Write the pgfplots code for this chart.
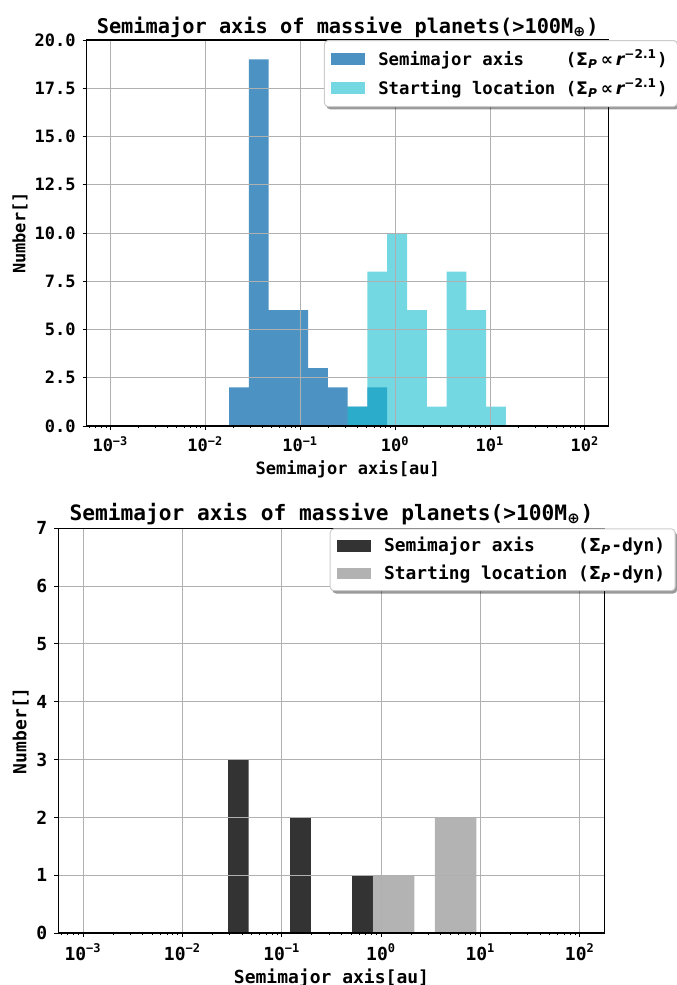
\documentclass[border=0pt]{standalone}
\usepackage{fontspec}
\setmainfont{DejaVu Sans Mono}
\newfontfamily\dvs{DejaVu Sans}
\usepackage{pgfplots}
\pgfplotsset{compat=1.18}
\usetikzlibrary{shadows}
\definecolor{tabblue}{RGB}{31,119,180}
\definecolor{tabcyan}{RGB}{23,190,207}
\definecolor{gridc}{RGB}{176,176,176}
\definecolor{legframe}{RGB}{204,204,204}

\makeatletter
\tikzset{no preactions/.code={\let\tikz@preactions\pgfutil@empty}}
\makeatother

\newcommand{\fa}{\fontsize{8.5}{10}\selectfont\bfseries}
\newcommand{\fla}{\fontsize{8.65}{10}\selectfont\bfseries}
\newcommand{\fb}{\fontsize{9}{10.8}\selectfont\bfseries}
\newcommand{\flb}{\fontsize{8.95}{10.8}\selectfont\bfseries}
\newcommand{\ft}{\fontsize{10.15}{12}\selectfont\bfseries}
\newcommand{\ftb}{\fontsize{10.6}{12.5}\selectfont\bfseries}
\newcommand{\sig}{{\dvs\bfseries Σ\textsubscript{\itshape P}}}
\newcommand{\pw}{(\sig{\dvs\bfseries\,∝\,}{\dvs\bfseries\itshape r}\textsuperscript{\dvs\bfseries −2.1})}
\newcommand{\dyn}{(\sig-dyn)}

\pgfplotsset{
  panel/.style={
    scale only axis,
    xmin=0.00056234, xmax=177.828,
    xtick={0.001,0.01,0.1,1,10,100},
    xticklabels={10\textsuperscript{−3},10\textsuperscript{−2},10\textsuperscript{−1},10\textsuperscript{0},10\textsuperscript{1},10\textsuperscript{2}},
    minor xtick={0.0006,0.0007,0.0008,0.0009,
      0.002,0.003,0.004,0.005,0.006,0.007,0.008,0.009,
      0.02,0.03,0.04,0.05,0.06,0.07,0.08,0.09,
      0.2,0.3,0.4,0.5,0.6,0.7,0.8,0.9,
      2,3,4,5,6,7,8,9,
      20,30,40,50,60,70,80,90},
    tick pos=left, tick align=outside,
    major tick length=2pt, minor tick length=1.1pt,
    tick style={black, line width=0.5pt},
    grid=major, major grid style={gridc, line width=0.5pt},
    axis on top,
    axis line style={line width=0.6pt},
    /pgf/number format/assume math mode=true,
    legend cell align=left,
    legend image code/.code={\fill[##1, sharp corners, no preactions] (0pt,-2.85pt) rectangle (17pt,2.85pt); \path (22pt,0pt);},
    legend style={anchor=north east, fill=white, draw=legframe, line width=0.5pt,
      rounded corners=2pt, inner xsep=3.5pt, inner ysep=2.8pt, row sep=1.8pt,
      nodes={inner sep=1.5pt},
      drop shadow={shadow xshift=1pt, shadow yshift=-1.4pt, fill=black, opacity=0.4}},
  }
}

\begin{document}
\begin{tikzpicture}
\useasboundingbox (0pt,0pt) rectangle (338pt,-492.5pt);

% ---------------- top panel ----------------
\begin{semilogxaxis}[panel,
  at={(43.35pt,-20pt)}, anchor=north west,
  width=261pt, height=193pt,
  ymin=0, ymax=20,
  ytick={0,2.5,5,7.5,10,12.5,15,17.5,20},
  yticklabel style={/pgf/number format/.cd, fixed, fixed zerofill, precision=1},
  ticklabel style={font=\fa},
  title={Semimajor axis of massive planets(>100M\textsubscript{\dvs⊕})},
  title style={font=\ft, at={(axis description cs:0.5,1.01736)}, anchor=base, yshift=-6pt},
  xlabel={Semimajor axis[au]},
  xlabel style={font=\fa, at={(axis description cs:0.5,-0.1244)}, anchor=base},
  ylabel={Number[]},
  ylabel style={font=\fa, at={(axis description cs:-0.1277,0.5)}, anchor=center},
  legend style={at={(axis description cs:1.1328,1)}, font=\fla},
]
\addplot[fill=tabblue, fill opacity=0.8, draw=none, const plot mark left]
  coordinates {(0.017783,2)(0.028731,19)(0.046416,6)(0.074989,6)(0.12115,3)(0.19573,2)(0.31623,1)(0.51090,2)(0.82540,2)} \closedcycle;
\addlegendentry{Semimajor axis\ \ \ \ \pw}
\addplot[fill=tabcyan, fill opacity=0.6, draw=none, const plot mark left]
  coordinates {(0.31623,1)(0.51090,8)(0.82540,10)(1.3335,6)(2.1544,1)(3.4807,8)(5.6234,6)(9.0852,1)(14.678,1)} \closedcycle;
\addlegendentry{Starting location \pw}
\end{semilogxaxis}

% ---------------- bottom panel ----------------
\begin{semilogxaxis}[panel,
  at={(29.15pt,-264.15pt)}, anchor=north west,
  width=273.2pt, height=202.35pt,
  ymin=0, ymax=7,
  ytick={0,1,2,3,4,5,6,7},
  ticklabel style={font=\fb},
  title={Semimajor axis of massive planets(>100M\textsubscript{\dvs⊕})},
  title style={font=\ftb, at={(axis description cs:0.5,1.0205)}, anchor=base, yshift=-6pt},
  xlabel={Semimajor axis[au]},
  xlabel style={font=\fb, at={(axis description cs:0.5,-0.126)}, anchor=base},
  ylabel={Number[]},
  ylabel style={font=\fb, at={(axis description cs:-0.0688,0.5)}, anchor=center},
  legend style={at={(axis description cs:1.1299,1)}, font=\flb},
]
\addplot[fill=black, fill opacity=0.8, draw=none, const plot mark left]
  coordinates {(0.028731,3)(0.046416,0)(0.074989,0)(0.12115,2)(0.19573,0)(0.31623,0)(0.51090,1)(0.82540,1)} \closedcycle;
\addlegendentry{Semimajor axis\ \ \ \ \dyn}
\addplot[fill=gray, fill opacity=0.6, draw=none, const plot mark left]
  coordinates {(0.82540,1)(1.3335,1)(2.1544,0)(3.4807,2)(5.6234,2)(9.0852,2)} \closedcycle;
\addlegendentry{Starting location \dyn}
\end{semilogxaxis}
\end{tikzpicture}
\end{document}
